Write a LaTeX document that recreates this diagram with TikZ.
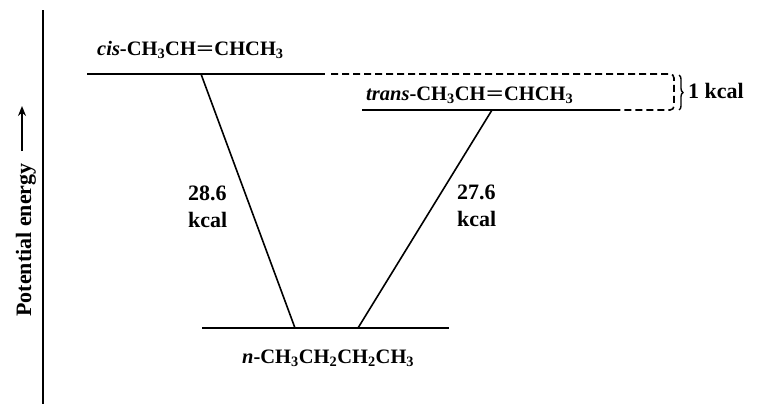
\documentclass[tikz,border=0pt]{standalone}
\usepackage{fontspec}
\setmainfont{Liberation Serif}
\usetikzlibrary{arrows.meta,decorations.pathreplacing}
\tikzset{
  level/.style={line width=1.9pt},
  conn/.style={line width=1.6pt},
  lbl/.style={inner sep=0pt, anchor=base west, font=\fontsize{22}{26}\selectfont\bfseries},
  formula/.style={inner sep=0pt, anchor=base west, font=\fontsize{20.5}{24}\selectfont\bfseries},
  dashlevel/.style={line width=1.6pt, dash pattern=on 7pt off 4pt, rounded corners=4pt}
}
\newcommand{\sub}[1]{\textsubscript{#1}}
\newcommand{\dbond}{\kern0.5pt\scalebox{1.5}[1]{=}\kern0.5pt}
\begin{document}
\begin{tikzpicture}[x=1pt,y=-1pt]
\useasboundingbox (0,0) rectangle (777,405);
% axis
\coordinate (axT) at (43,10);
\coordinate (axB) at (43,404);
\draw[line width=1.9pt] (axT) -- (axB);
\node[lbl, anchor=base, rotate=90] (pe) at (31,240) {Potential energy};
\coordinate (arB) at (22,151);
\coordinate (arT) at (22,106);
\draw[line width=1.5pt, -{Stealth[length=10pt,width=8pt]}] (arB) -- (arT);
% levels
\coordinate (cisL) at (87,74);
\coordinate (cisR) at (325,74);
\coordinate (dashA) at (331,74);
\coordinate (dashC) at (674,74);
\coordinate (dashD) at (674,110);
\coordinate (transR) at (620,110);
\coordinate (transL) at (362,110);
\coordinate (nL) at (202,328);
\coordinate (nR) at (449,328);
\draw[level] (cisL) -- (cisR);
\draw[level] (transL) -- (transR);
\draw[level] (nL) -- (nR);
\draw[dashlevel] (dashA) -- (dashC) -- (dashD) -- (transR);
% brace
\coordinate (brT) at (679,75);
\coordinate (brB) at (679,110);
\draw[line width=1.4pt, decorate, decoration={brace, amplitude=4pt}] (brT) -- (brB);
\node[lbl] (onek) at (688,98) {1 kcal};
% labels
\node[formula] (cis) at (97,55) {\textit{cis}-CH\sub{3}CH\dbond CHCH\sub{3}};
\node[formula] (trans) at (366,100) {\textit{trans}-CH\sub{3}CH\dbond CHCH\sub{3}};
\node[formula] (nbut) at (242,363) {\textit{n}-CH\sub{3}CH\sub{2}CH\sub{2}CH\sub{3}};
% connectors
\coordinate (c1a) at (201,74);
\coordinate (c1b) at (295,328);
\coordinate (c2a) at (492,110);
\coordinate (c2b) at (358,328);
\draw[conn] (c1a) -- (c1b);
\draw[conn] (c2a) -- (c2b);
\node[lbl] (e1) at (188,200) {28.6};
\node[lbl] (k1) at (188,227) {kcal};
\node[lbl] (e2) at (457,199) {27.6};
\node[lbl] (k2) at (457,226) {kcal};
\end{tikzpicture}
\end{document}
